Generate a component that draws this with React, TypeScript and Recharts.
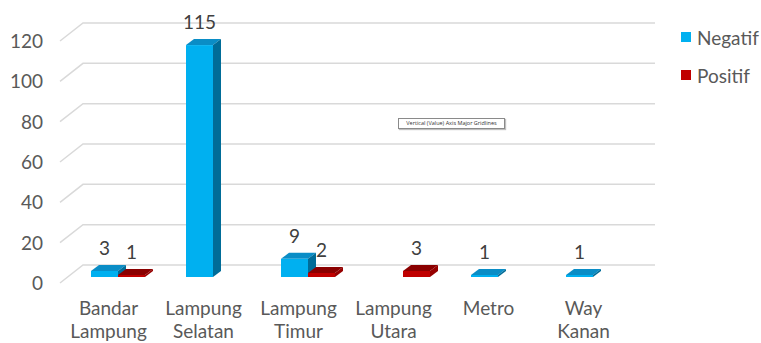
import React from 'react';
import { BarChart, Bar, XAxis, YAxis, CartesianGrid, LabelList } from 'recharts';

const categories = ['Bandar Lampung', 'Lampung Selatan', 'Lampung Timur', 'Lampung Utara', 'Metro', 'Way Kanan'];
const negatif: (number | null)[] = [3, 115, 9, null, 1, 1];
const positif: (number | null)[] = [1, null, 2, 3, null, null];
const yTicks = [0, 20, 40, 60, 80, 100, 120];
const seriesNames = ['Negatif', 'Positif'];

const data = categories.map((c, i) => ({ name: c, Negatif: negatif[i], Positif: positif[i] }));

const FONT = 'Lato, "Open Sans", sans-serif';
const DX = 8;
const DY = 6;
const SHIFT = 9;

const COLORS = {
  Negatif: { front: '#00B0F0', top: '#0A8DC6', side: '#006C98' },
  Positif: { front: '#C00000', top: '#8A0000', side: '#960000' },
};

const make3D = (c: { front: string; top: string; side: string }) => (props: any) => {
  const { x, y, width, height } = props;
  if (x == null || y == null || width == null || height == null) return null;
  const X = x + SHIFT;
  const w = width;
  const h = Math.max(height, 0);
  return (
    <g>
      <polygon points={`${X},${y} ${X + w},${y} ${X + w + DX},${y - DY} ${X + DX},${y - DY}`} fill={c.top} />
      <polygon points={`${X + w},${y} ${X + w + DX},${y - DY} ${X + w + DX},${y + h - DY} ${X + w},${y + h}`} fill={c.side} />
      <rect x={X} y={y} width={w} height={h} fill={c.front} />
    </g>
  );
};

const renderLabel = (p: any) => {
  if (p.value == null) return null;
  return (
    <text x={p.x + p.width / 2 + SHIFT} y={p.y - 16} textAnchor="middle" fontSize={19} fill="#404040" fontFamily={FONT}>
      {p.value}
    </text>
  );
};

const gridLine = (props: any) => {
  const { x1, x2, y1 } = props;
  const d = `M ${x1 - 1} ${y1 + 6} L ${x1 + 22} ${y1 - 12} L ${x2 + 24} ${y1 - 12}`;
  return <path key={`g-${y1}`} d={d} stroke="#D9D9D9" strokeWidth={1.5} fill="none" />;
};

const YTick = (props: any) => {
  const { x, y, payload } = props;
  return (
    <text x={x - 18} y={y + 13} textAnchor="end" fontSize={19} fill="#595959" fontFamily={FONT}>
      {payload.value}
    </text>
  );
};

const XTick = (props: any) => {
  const { x, y, payload } = props;
  const lines = String(payload.value).split(' ');
  return (
    <text x={x} y={y} textAnchor="middle" fontSize={19} fill="#595959" fontFamily={FONT}>
      {lines.map((l, i) => (
        <tspan key={i} x={x} dy={i === 0 ? 38 : 23}>{l}</tspan>
      ))}
    </text>
  );
};

export default function App() {
  return (
    <div style={{ position: 'absolute', left: 0, top: 0, width: 761, height: 343, background: '#fff', overflow: 'hidden' }}>
      <BarChart
        width={761}
        height={343}
        data={data}
        margin={{ top: 35, right: 130, left: 0, bottom: 0 }}
        barSize={27}
        barGap={0}
      >
        <CartesianGrid vertical={false} horizontal={gridLine} />
        <YAxis
          width={61}
          domain={[0, 120]}
          ticks={yTicks}
          axisLine={false}
          tickLine={false}
          tickSize={0}
          tickMargin={0}
          tick={<YTick />}
          interval={0}
        />
        <XAxis
          dataKey="name"
          height={66}
          axisLine={false}
          tickLine={false}
          tickSize={0}
          tickMargin={0}
          interval={0}
          tick={<XTick />}
        />
        <Bar dataKey="Negatif" isAnimationActive={false} shape={make3D(COLORS.Negatif)}>
          <LabelList dataKey="Negatif" content={renderLabel} />
        </Bar>
        <Bar dataKey="Positif" isAnimationActive={false} shape={make3D(COLORS.Positif)}>
          <LabelList dataKey="Positif" content={renderLabel} />
        </Bar>
      </BarChart>
      <div style={{ position: 'absolute', left: 681, top: 26, fontFamily: FONT, fontSize: 19, color: '#595959' }}>
        {seriesNames.map((n) => (
          <div key={n} style={{ display: 'flex', alignItems: 'center', height: 22, marginBottom: 16 }}>
            <span style={{ display: 'inline-block', width: 10, height: 10, background: COLORS[n as 'Negatif' | 'Positif'].front, marginRight: 6 }} />
            <span>{n}</span>
          </div>
        ))}
      </div>
      <div
        style={{
          position: 'absolute',
          left: 398,
          top: 118,
          width: 105,
          height: 9,
          border: '1px solid #8a8a8a',
          background: '#fff',
          boxShadow: '1px 1px 1px rgba(0,0,0,0.25)',
          fontFamily: '"Open Sans", sans-serif',
          fontSize: 5.5,
          lineHeight: '9px',
          color: '#333',
          textAlign: 'center',
          whiteSpace: 'nowrap',
        }}
      >
        Vertical (Value) Axis Major Gridlines
      </div>
    </div>
  );
}
